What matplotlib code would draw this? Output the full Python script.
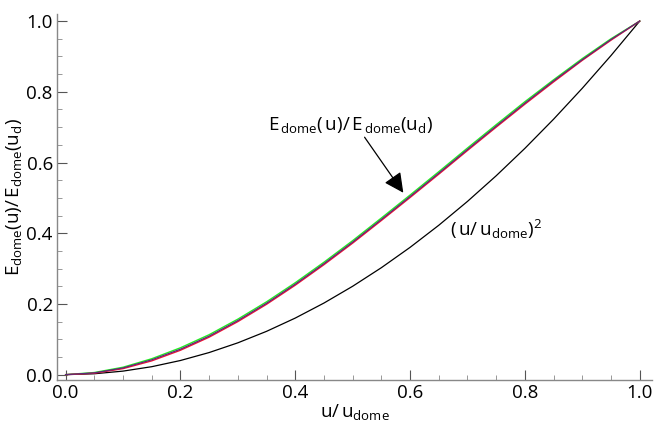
import matplotlib
matplotlib.use("Agg")
import matplotlib.pyplot as plt
from matplotlib.ticker import MultipleLocator, FormatStrFormatter

plt.rcParams['font.family'] = ['Open Sans', 'DejaVu Sans']
plt.rcParams['mathtext.fontset'] = 'custom'
plt.rcParams['mathtext.rm'] = 'Open Sans'
plt.rcParams['mathtext.it'] = 'Open Sans'
plt.rcParams['mathtext.bf'] = 'Open Sans'

# u / u_dome
u_ratio = [0.00, 0.05, 0.10, 0.15, 0.20, 0.25, 0.30, 0.35, 0.40, 0.45, 0.50,
           0.55, 0.60, 0.65, 0.70, 0.75, 0.80, 0.85, 0.90, 0.95, 1.00]

# E_dome(u)/E_dome(u_d), three nearly overlapping curves
e_green = [0.000, 0.006, 0.021, 0.045, 0.076, 0.113, 0.157, 0.206, 0.260, 0.318, 0.379,
           0.443, 0.508, 0.574, 0.641, 0.707, 0.772, 0.834, 0.894, 0.950, 1.000]
e_red = [0.000, 0.004, 0.017, 0.039, 0.069, 0.106, 0.150, 0.199, 0.253, 0.311, 0.372,
         0.436, 0.501, 0.567, 0.634, 0.700, 0.765, 0.828, 0.889, 0.946, 1.000]
e_purple = [0.000, 0.005, 0.019, 0.042, 0.072, 0.109, 0.153, 0.202, 0.256, 0.314, 0.375,
            0.439, 0.504, 0.570, 0.637, 0.703, 0.768, 0.831, 0.891, 0.948, 1.000]

# (u/u_dome)^2
u_squared = [0.0000, 0.0025, 0.0100, 0.0225, 0.0400, 0.0625, 0.0900, 0.1225, 0.1600, 0.2025, 0.2500,
             0.3025, 0.3600, 0.4225, 0.4900, 0.5625, 0.6400, 0.7225, 0.8100, 0.9025, 1.0000]

fig = plt.figure(figsize=(6.59, 4.25), dpi=100)
ax = fig.add_axes([0.0865, 0.106, 0.9025, 0.861])

ax.plot(u_ratio, u_squared, color='black', lw=0.9)
ax.plot(u_ratio, e_green, color='#22ee22', lw=1.0)
ax.plot(u_ratio, e_red, color='#ee1133', lw=1.0)
ax.plot(u_ratio, e_purple, color='#5a2a78', lw=0.9)

ax.set_xlim(-0.015, 1.021)
ax.set_ylim(-0.015, 1.02)

# Mathematica-like frame
for side in ['top', 'right']:
    ax.spines[side].set_visible(False)
for side in ['left', 'bottom']:
    ax.spines[side].set_color('#888888')
    ax.spines[side].set_linewidth(1.0)

ax.xaxis.set_major_locator(MultipleLocator(0.2))
ax.xaxis.set_minor_locator(MultipleLocator(0.05))
ax.yaxis.set_major_locator(MultipleLocator(0.2))
ax.yaxis.set_minor_locator(MultipleLocator(0.05))
ax.xaxis.set_major_formatter(FormatStrFormatter('%.1f'))
ax.yaxis.set_major_formatter(FormatStrFormatter('%.1f'))
ax.tick_params(which='major', direction='in', length=7, width=0.8, color='#555555',
               labelsize=13.5, pad=3)
ax.tick_params(which='minor', direction='in', length=3.5, width=0.6, color='#888888')

ax.set_xlabel(r'$\mathrm{u/\,u_{dome}}$', fontsize=13.5, labelpad=0)
ax.set_ylabel(r'$\mathrm{E_{dome}(u)/\,E_{dome}(u_d)}$', fontsize=13.5, labelpad=2)

ax.annotate('', xy=(0.591, 0.508), xytext=(0.518, 0.678),
            arrowprops=dict(arrowstyle='-|>', mutation_scale=30, color='black', lw=0.9))
ax.text(0.497, 0.706, r'$\mathrm{E_{\,dome}(\,u)/\,E_{\,dome}(u_d)}$', fontsize=13.5,
        ha='center', va='center')
ax.text(0.75, 0.41, r'$\mathrm{(\,u/\,u_{dome})^2}$', fontsize=13.5,
        ha='center', va='center')

fig.savefig('out.png', dpi=100)
